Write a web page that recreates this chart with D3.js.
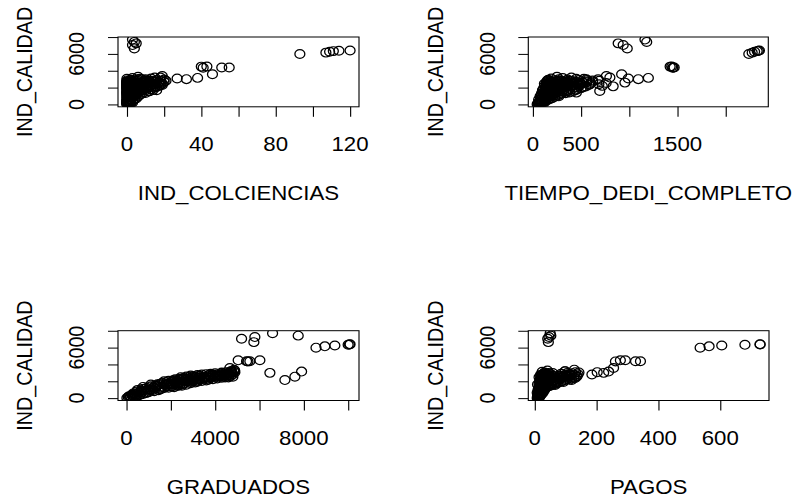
<!DOCTYPE html>
<html><head><meta charset="utf-8">
<script src="https://cdn.jsdelivr.net/npm/d3@7"></script>
<style>html,body{margin:0;padding:0;background:#fff;} svg{display:block;}</style>
</head><body>
<script>
// ---- data: one row per observation, shared response IND_CALIDAD ----
const indCalidad = [
  25, 50, 80, 110, 140, 170, 200, 240, 280, 320,
  360, 400, 450, 500, 550, 600, 650, 700, 750, 790,
  820, 860, 900, 940, 980, 1020, 1060, 1100, 1150, 1190,
  1210, 1240, 1270, 1300, 1330, 1360, 1390, 1420, 1450, 1480,
  1500, 1525, 1550, 1580, 1610, 1640, 1670, 1700, 1730, 1750,
  1770, 1800, 1830, 1860, 1890, 1920, 1950, 1970, 1990, 2000,
  2020, 2040, 2060, 2080, 2100, 2120, 2140, 2160, 2180, 2200,
  2210, 2230, 2250, 2270, 2290, 2310, 2330, 2350, 2370, 2390,
  2400, 2415, 2430, 2445, 2460, 2475, 2490, 2505, 2520, 2540,
  2555, 2570, 2585, 2600, 2615, 2630, 2645, 2660, 2680, 2700,
  2710, 2725, 2740, 2755, 2770, 2790, 2810, 2830, 2840, 2850,
  2870, 2900, 2930, 2960, 3000, 3040, 3080, 3130, 3200, 3280,
  1050, 1380, 1620, 1880, 2150, 2330, 2480, 2620, 2760, 2520,
  1560, 1720, 1910, 2050, 2260, 2380, 2550, 2690, 2880, 3050,
  230, 420, 640, 880, 1120, 1290, 1440, 310, 560, 960,
  2985, 2985, 2390, 3380, 3190, 2590, 1590, 1400, 2700, 2200,
  1650, 1780, 1940, 2090, 2200, 2340, 2450, 2590, 2720, 2800,
  1100, 1260, 1470, 1690, 1850, 2010, 2170, 2310, 2460, 2650,
  4490, 4500, 4380, 4380, 4360, 3580, 3150, 3000, 3080, 2800, 2145, 2545,
  7700, 7420, 7250, 7050, 6650,
  5990, 6150, 6250, 6330, 6380, 6400
];
const indColciencias = [
  0, 1, 0, 0, 2, 1, 0, 3, 1, 0,
  1, 0, 3, 2, 0, 4, 1, 5, 0, 2,
  0, 3, 1, 6, 2, 0, 4, 1, 7, 3,
  2, 0, 8, 4, 1, 10, 3, 0, 6, 2,
  0, 5, 12, 2, 8, 1, 3, 14, 0, 6,
  3, 13, 0, 7, 2, 10, 1, 5, 15, 0,
  0, 9, 4, 16, 1, 6, 11, 2, 17, 3,
  5, 0, 13, 2, 18, 7, 1, 10, 3, 15,
  0, 8, 14, 3, 1, 19, 5, 0, 11, 2,
  6, 0, 12, 2, 17, 4, 0, 9, 20, 1,
  3, 15, 0, 7, 10, 1, 18, 4, 12, 0,
  5, 16, 2, 20, 8, 0, 13, 3, 18, 6,
  1, 0, 2, 0, 1, 0, 2, 0, 1, 0,
  4, 9, 6, 12, 8, 14, 5, 16, 10, 7,
  2, 0, 1, 3, 0, 5, 9, 0, 2, 4,
  10, 6, 3, 19, 15, 8, 2, 1, 12, 5,
  7, 1, 11, 3, 0, 13, 4, 2, 9, 14,
  5, 2, 0, 16, 4, 8, 0, 19, 6, 1,
  40, 43, 51, 55, 41, 46, 38, 32, 27, 21, 15, 18,
  3, 4, 5, 3, 4,
  93, 107, 109, 111, 114, 120
];
const tiempoDediCompleto = [
  45, 60, 52, 80, 66, 95, 58, 120, 75, 105,
  70, 130, 90, 150, 60, 110, 180, 85, 200, 140,
  100, 160, 230, 75, 190, 130, 260, 95, 210, 150,
  120, 280, 180, 90, 340, 220, 150, 380, 110, 260,
  200, 130, 300, 420, 170, 250, 100, 360, 450, 190,
  240, 150, 380, 110, 290, 500, 200, 330, 160, 430,
  180, 310, 460, 140, 260, 550, 220, 390, 120, 300,
  250, 160, 420, 330, 190, 580, 280, 140, 360, 470,
  210, 380, 150, 500, 270, 330, 180, 440, 240, 600,
  290, 170, 350, 520, 230, 400, 140, 310, 460, 260,
  200, 340, 560, 250, 180, 410, 300, 150, 620, 270,
  230, 480, 160, 360, 270, 530, 190, 310, 400, 250,
  85, 240, 190, 130, 350, 270, 210, 180, 330, 490,
  360, 440, 280, 520, 400, 590, 470, 360, 560, 450,
  70, 115, 165, 140, 230, 300, 175, 90, 120, 270,
  555, 677, 685, 763, 799, 955, 694, 451, 620, 720,
  140, 320, 230, 170, 480, 210, 300, 520, 160, 390,
  200, 110, 320, 270, 460, 150, 240, 350, 120, 560,
  1424, 1440, 1455, 1466, 1450, 921, 1198, 1094, 990, 688, 833, 760,
  1163, 1181, 885, 937, 979,
  2240, 2275, 2300, 2327, 2340, 2350
];
const graduados = [
  20, 150, 300, 80, 420, 200, 350, 120, 500, 260,
  600, 250, 480, 750, 380, 900, 550, 1000, 700, 450,
  1250, 650, 950, 1450, 500, 1100, 1550, 800, 1300, 1700,
  900, 1900, 1250, 2150, 750, 1600, 2050, 1100, 1800, 1400,
  1300, 2400, 1750, 2700, 1100, 2100, 1500, 2550, 1900, 2300,
  2900, 1600, 2200, 3100, 1800, 2500, 3200, 2050, 2750, 1700,
  2300, 3400, 1900, 2800, 3600, 2100, 3000, 2600, 3700, 2400,
  3200, 2200, 3900, 2700, 3500, 2400, 4100, 3000, 2550, 3800,
  2600, 4300, 3300, 2900, 4600, 3600, 2450, 4000, 3100, 4800,
  3500, 2700, 4400, 3900, 3000, 4700, 3300, 4100, 2900, 4550,
  3700, 4200, 3200, 4650, 3900, 4450, 3400, 4800, 4100, 3600,
  4300, 3800, 4600, 4000, 4750, 4300, 4500, 4850, 4700, 4880,
  1000, 1350, 2000, 2400, 2900, 3500, 3800, 4250, 4400, 3000,
  2300, 2600, 2900, 3200, 3600, 3300, 4100, 3800, 4500, 4650,
  180, 620, 850, 700, 1450, 1050, 2300, 400, 300, 1200,
  4300, 4600, 3300, 4850, 4750, 4200, 2300, 1900, 4100, 3000,
  1400, 2000, 2650, 2200, 3300, 2800, 3500, 3200, 4300, 3900,
  700, 1700, 2500, 1850, 2300, 3000, 3300, 2500, 4450, 4600,
  5039, 6018, 5417, 5566, 5480, 4664, 7900, 6470, 4890, 4500, 7147, 7598,
  6591, 7747, 5792, 5192, 5747,
  8550, 8950, 9400, 10000, 10060, 10087
];
const pagos = [
  8, 12, 10, 14, 11, 16, 9, 13, 18, 15,
  17, 10, 21, 13, 24, 15, 19, 27, 12, 22,
  20, 14, 26, 31, 11, 23, 17, 29, 34, 16,
  24, 13, 32, 19, 28, 36, 15, 22, 40, 27,
  18, 55, 30, 25, 42, 62, 14, 35, 70, 21,
  38, 20, 76, 29, 16, 45, 84, 33, 26, 58,
  22, 90, 37, 28, 64, 18, 47, 99, 31, 52,
  34, 105, 25, 72, 43, 19, 118, 36, 81, 29,
  27, 40, 126, 23, 88, 33, 58, 110, 21, 46,
  31, 95, 24, 62, 137, 39, 20, 115, 48, 29,
  26, 44, 128, 35, 22, 102, 41, 30, 140, 52,
  37, 85, 28, 120, 45, 32, 132, 24, 98, 41,
  12, 30, 9, 41, 17, 24, 14, 33, 19, 87,
  66, 52, 93, 74, 57, 131, 106, 82, 112, 143,
  11, 19, 8, 23, 17, 35, 26, 14, 20, 30,
  58, 105, 66, 128, 98, 84, 52, 47, 118, 76,
  22, 31, 17, 60, 27, 39, 92, 29, 55, 36,
  15, 28, 44, 20, 67, 35, 113, 26, 38, 101,
  277, 293, 326, 342, 261, 255, 239, 223, 202, 185, 120, 135,
  50, 52, 46, 42, 44,
  535, 564, 605, 680, 729, 729
];

// ---- tick values and the labels R kept ----
const yTicks = [0, 2000, 4000, 6000, 8000];
const yTickLabels = [0, 6000];
const colcTicks = [0, 20, 40, 60, 80, 100, 120];
const colcTickLabels = [0, 40, 80, 120];
const tiempoTicks = [0, 500, 1000, 1500, 2000];
const tiempoTickLabels = [0, 500, 1500];
const gradTicks = [0, 2000, 4000, 6000, 8000, 10000];
const gradTickLabels = [0, 4000, 8000];
const pagosTicks = [0, 200, 400, 600];
const pagosTickLabels = [0, 200, 400, 600];
const yTitle = "IND_CALIDAD";

// ---- drawing ----
const W = 799, H = 503, SX = 1.13;
const FONT = "'Liberation Sans', Arial, Helvetica, sans-serif";
const FS = 19.7;
const svg = d3.select("body").append("svg").attr("width", W).attr("height", H);
svg.append("rect").attr("width", W).attr("height", H).attr("fill", "#fff");
const root = svg.append("g").attr("transform", `scale(${SX},1)`);

const panels = [
  { x: indColciencias, title: "IND_COLCIENCIAS", ticks: colcTicks, labels: colcTickLabels, box: [118, 359, 37, 106.8] },
  { x: tiempoDediCompleto, title: "TIEMPO_DEDI_COMPLETO", ticks: tiempoTicks, labels: tiempoTickLabels, box: [528.3, 768.3, 37, 106.8] },
  { x: graduados, title: "GRADUADOS", ticks: gradTicks, labels: gradTickLabels, box: [118, 359, 330.7, 400.5] },
  { x: pagos, title: "PAGOS", ticks: pagosTicks, labels: pagosTickLabels, box: [528.3, 769, 330.7, 400.5] }
];

function padded(arr) {
  const [a, b] = d3.extent(arr);
  const r = b - a;
  return [a - 0.04 * r, b + 0.04 * r];
}

panels.forEach((p, k) => {
  const [x0, x1, y0, y1] = p.box;
  const xs = d3.scaleLinear().domain(padded(p.x)).range([x0 / SX, x1 / SX]);
  const ys = d3.scaleLinear().domain(padded(indCalidad)).range([y1, y0]);
  const g = root.append("g");

  const clipId = "clip" + k;
  g.append("clipPath").attr("id", clipId).append("rect")
    .attr("x", x0 / SX).attr("y", y0).attr("width", (x1 - x0) / SX).attr("height", y1 - y0);

  g.append("g").attr("clip-path", `url(#${clipId})`)
    .selectAll("circle").data(d3.range(indCalidad.length)).join("circle")
    .attr("cx", i => xs(p.x[i])).attr("cy", i => ys(indCalidad[i])).attr("r", 4.4)
    .attr("fill", "none").attr("stroke", "#000").attr("stroke-width", 1.15);

  g.append("rect").attr("x", x0 / SX).attr("y", y0)
    .attr("width", (x1 - x0) / SX).attr("height", y1 - y0)
    .attr("fill", "none").attr("stroke", "#000").attr("stroke-width", 1);

  const xa = g.append("g").attr("transform", `translate(0,${y1})`)
    .call(d3.axisBottom(xs).tickValues(p.ticks).tickFormat("").tickSize(10).tickSizeOuter(0));
  xa.select(".domain").remove();
  xa.selectAll("line").attr("stroke", "#000");

  const ya = g.append("g").attr("transform", `translate(${x0 / SX},0)`)
    .call(d3.axisLeft(ys).tickValues(yTicks).tickFormat("").tickSize(10 / SX).tickSizeOuter(0));
  ya.select(".domain").remove();
  ya.selectAll("line").attr("stroke", "#000");

  const txt = sel => sel.attr("font-family", FONT).attr("font-size", FS).attr("fill", "#000");

  g.selectAll("text.xl").data(p.labels).join("text").attr("class", "xl")
    .attr("x", d => xs(d)).attr("y", y1 + 37.5).attr("dy", "0.35em")
    .attr("text-anchor", "middle").text(d => d).call(txt);

  g.selectAll("text.yl").data(yTickLabels).join("text").attr("class", "yl")
    .attr("transform", d => `translate(${(x0 - 41.5) / SX},${ys(d)}) rotate(-90)`)
    .attr("dy", "0.35em").attr("text-anchor", "middle").text(d => d).call(txt);

  g.append("text").attr("x", (x0 + x1) / 2 / SX).attr("y", y1 + 86.5).attr("dy", "0.35em")
    .attr("text-anchor", "middle").text(p.title).call(txt);

  g.append("text")
    .attr("transform", `translate(${(x0 - 93.5) / SX},${(y0 + y1) / 2}) rotate(-90)`)
    .attr("dy", "0.35em").attr("text-anchor", "middle").text(yTitle).call(txt);
});
</script>
</body></html>
